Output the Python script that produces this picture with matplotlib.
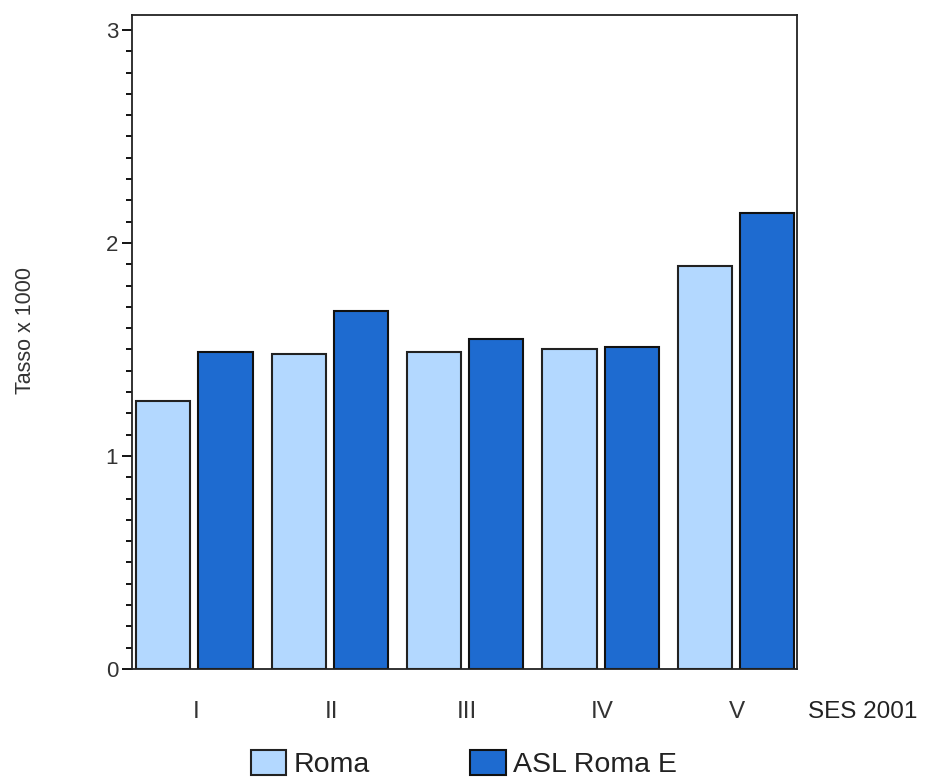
import matplotlib
matplotlib.use("Agg")
import matplotlib.pyplot
import matplotlib.ticker
import numpy

CATEGORIES = ["I", "II", "III", "IV", "V"]
ROMA = [1.26, 1.48, 1.49, 1.50, 1.89]
ASL_ROMA_E = [1.49, 1.68, 1.55, 1.51, 2.14]
SERIES_NAMES = ["Roma", "ASL Roma E"]

palette = ["#b3d8ff", "#1e6bd0"]

matplotlib.rcParams.update(
    {
        "font.family": ["Liberation Sans", "DejaVu Sans"],
    }
)

fig = matplotlib.pyplot.figure(figsize=(9.27, 7.78), dpi=100)
ax = fig.add_axes([0.1424, 0.1401, 0.7174, 0.8406])

pos = numpy.arange(len(CATEGORIES))
width = 0.40
offset = 0.23

b1 = ax.bar(pos - offset, ROMA, width, color=palette[0], edgecolor="#222222", linewidth=1.5)
b2 = ax.bar(pos + offset, ASL_ROMA_E, width, color=palette[1], edgecolor="#111111", linewidth=1.5)

ax.set_xlim(-0.46, 4.45)
ax.set_ylim(0, 3.07)
ax.set_xticks(pos + 0.01)
ax.set_xticklabels(CATEGORIES, fontsize=17.5, color="#333333")
ax.tick_params(axis="x", length=0, pad=23)

ax.set_yticks([0, 1, 2, 3])
ax.yaxis.set_minor_locator(matplotlib.ticker.MultipleLocator(0.1))
ax.tick_params(axis="y", which="major", length=7, width=1.3, labelsize=16, pad=3, labelcolor="#333333")
ax.tick_params(axis="y", which="minor", length=4, width=1.3)

for s in ax.spines.values():
    s.set_linewidth(1.3)
    s.set_color("#222222")

ax.set_ylabel("Tasso x 1000", fontsize=15.5, color="#333333")
ax.yaxis.set_label_coords(-0.145, 0.518)
fig.text(0.8716, 0.085, "SES 2001", fontsize=17.5, va="center", ha="left", color="#222222")

fig.legend(
    [b1, b2],
    SERIES_NAMES,
    loc="lower left",
    bbox_to_anchor=(248 / 927, -0.004),
    ncol=2,
    frameon=False,
    fontsize=20.5,
    borderpad=0.1,
    borderaxespad=0,
    handlelength=1.25,
    handleheight=0.95,
    handletextpad=0.27,
    columnspacing=3.5,
    labelcolor="#222222",
)

matplotlib.pyplot.savefig("out.png", dpi=100)
